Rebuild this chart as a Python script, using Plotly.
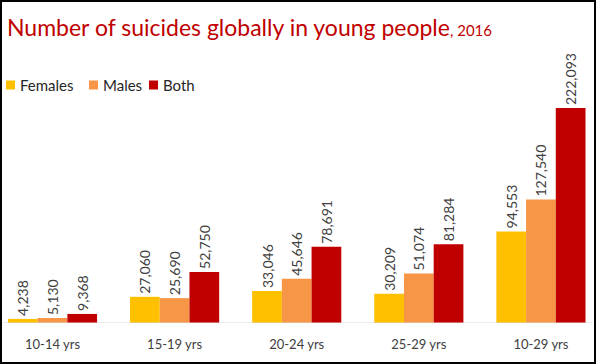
import plotly.graph_objects as go

categories = ["10-14 yrs", "15-19 yrs", "20-24 yrs", "25-29 yrs", "10-29 yrs"]
females = [4238, 27060, 33046, 30209, 94553]
males = [5130, 25690, 45646, 51074, 127540]
both = [9368, 52750, 78691, 81284, 222093]
series_names = ["Females", "Males", "Both"]
series_colors = ["#FFC000", "#F79646", "#C00000"]

W, H = 596, 364
FONT = "Lato"
TXT = "#404040"
PAD = "\u2002\u200b"

fig = go.Figure()
for name, vals, col in zip(series_names, [females, males, both], series_colors):
    fig.add_trace(go.Bar(
        x=categories, y=vals, name=name, marker=dict(color=col, line=dict(width=0)),
        text=[f"{v:,}{PAD}" for v in vals], textposition="outside", textangle=-90,
        textfont=dict(family=FONT, size=14, color=TXT), cliponaxis=False,
        constraintext="none", showlegend=False,
    ))

top_m, bot_m = 60, 41
plot_h = H - top_m - bot_m

shapes = [
    # baseline
    dict(type="line", xref="paper", yref="y", x0=3 / W, x1=593 / W, y0=0, y1=0,
         line=dict(color="#D9D9D9", width=1.2)),
    # outer frame
    dict(type="rect", xref="paper", yref="paper", x0=1 / W, x1=(W - 1) / W,
         y0=(top_m + plot_h - (H - 1)) / plot_h, y1=(top_m + plot_h - 1) / plot_h,
         line=dict(color="#000000", width=2)),
]
annotations = []
leg_sq_x = [6, 89, 149]
for i, (name, col) in enumerate(zip(series_names, series_colors)):
    sx = leg_sq_x[i]
    yc = 85
    shapes.append(dict(type="rect", xref="paper", yref="paper",
                       x0=sx / W, x1=(sx + 9) / W,
                       y0=(top_m + plot_h - (yc + 4.5)) / plot_h,
                       y1=(top_m + plot_h - (yc - 4.5)) / plot_h,
                       fillcolor=col, line=dict(width=0)))
    annotations.append(dict(text=name, xref="paper", yref="paper",
                            x=(sx + 12) / W, y=(top_m + plot_h - yc) / plot_h,
                            xanchor="left", yanchor="middle", showarrow=False,
                            font=dict(family=FONT, size=15, color="#262626")))

fig.update_layout(
    width=W, height=H,
    margin=dict(l=0, r=0, t=top_m, b=bot_m),
    paper_bgcolor="white", plot_bgcolor="white",
    barmode="group", bargap=0.27, bargroupgap=0,
    title=dict(text="Number of suicides globally in young people<span style='font-size:15px'>, 2016</span>",
               x=7 / W, xanchor="left", y=1 - 28 / H, yanchor="middle",
               font=dict(family=FONT, size=23, color="#C00000")),
    xaxis=dict(range=[-0.43, 4.451], showgrid=False, zeroline=False, showline=False,
               tickfont=dict(family=FONT, size=13, color=TXT), ticks="",
               ticklabelstandoff=12),
    yaxis=dict(range=[0, 271700], visible=False),
    shapes=shapes, annotations=annotations,
)

fig.write_html("out.html", config={"displayModeBar": False},
               post_script="document.body.style.margin='0px';document.body.style.overflow='hidden';")
